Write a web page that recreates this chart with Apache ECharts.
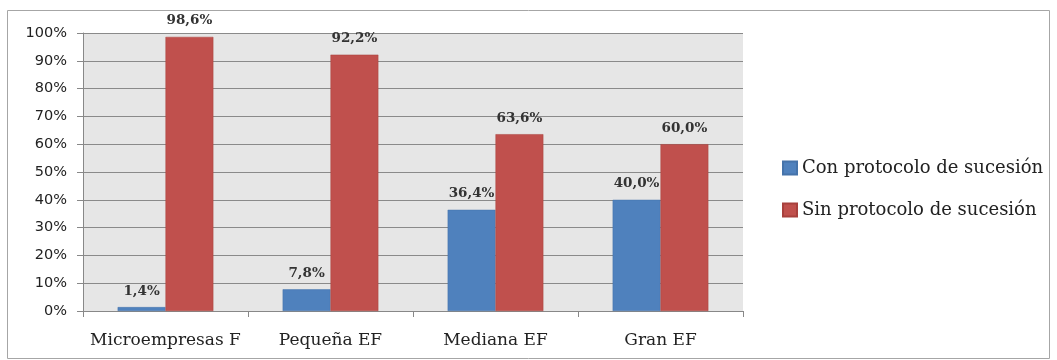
<!DOCTYPE html>
<html><head><meta charset="utf-8">
<script src="https://cdn.jsdelivr.net/npm/echarts@6/dist/echarts.min.js"></script>
<style>html,body{margin:0;padding:0;background:#fff}#c{width:1057px;height:360px}</style>
</head><body><div id="c"></div>
<script>
const categories = ['Microempresas F', 'Pequeña EF', 'Mediana EF', 'Gran EF'];
const seriesNames = ['Con protocolo de sucesión', 'Sin protocolo de sucesión'];
const conProtocolo = [1.4, 7.8, 36.4, 40.0];
const sinProtocolo = [98.6, 92.2, 63.6, 60.0];
const colors = ['#4F81BD', '#C0504D'];

const chart = echarts.init(document.getElementById('c'));
const labelCfg = {
  show: true, position: 'top', distance: 9,
  fontFamily: 'DejaVu Serif', fontWeight: 'bold', fontSize: 13.5, color: '#333',
  formatter: p => p.value.toFixed(1).replace('.', ',') + '%'
};
chart.setOption({
  animation: false,
  graphic: [{type: 'rect', shape: {x: 7.5, y: 10.5, width: 1042, height: 348},
    style: {fill: 'none', stroke: '#a6a6a6', lineWidth: 1}, silent: true}],
  grid: {left: 83, top: 33, width: 660, height: 278, show: true,
    backgroundColor: '#e6e6e6', borderWidth: 0},
  legend: {
    orient: 'vertical', left: 777, top: 154, itemWidth: 14, itemHeight: 13, itemGap: 24,
    icon: 'rect',
    textStyle: {fontFamily: 'DejaVu Serif', fontSize: 18, color: '#222'},
    data: seriesNames
  },
  xAxis: {
    type: 'category', data: categories,
    axisLine: {lineStyle: {color: '#888'}},
    axisTick: {show: true, interval: 0, length: 6, lineStyle: {color: '#888'}},
    axisLabel: {interval: 0, fontFamily: 'DejaVu Serif', fontSize: 17, color: '#222', margin: 21}
  },
  yAxis: {
    type: 'value', min: 0, max: 100, interval: 10,
    axisLine: {show: true, lineStyle: {color: '#888'}},
    axisTick: {show: true, length: 6, lineStyle: {color: '#888'}},
    splitLine: {lineStyle: {color: '#8a8a8a', width: 1}},
    axisLabel: {fontFamily: 'DejaVu Sans', fontSize: 14.5, color: '#222', margin: 16,
      formatter: v => v + '%'}
  },
  series: [
    {name: seriesNames[0], type: 'bar', data: conProtocolo, barGap: '0%', barCategoryGap: '42%',
     itemStyle: {color: colors[0], borderColor: '#4573aa', borderWidth: 0.5}, label: labelCfg},
    {name: seriesNames[1], type: 'bar', data: sinProtocolo, barGap: '0%', barCategoryGap: '42%',
     itemStyle: {color: colors[1], borderColor: '#a8403d', borderWidth: 0.5}, label: labelCfg}
  ]
});
</script></body></html>
